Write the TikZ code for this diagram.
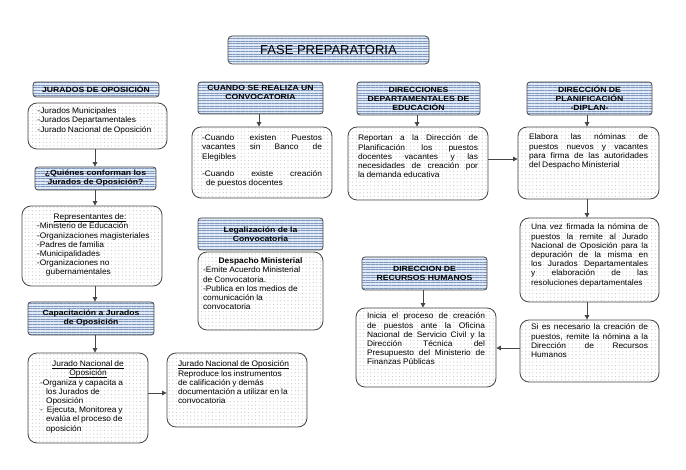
\documentclass[tikz,border=0pt]{standalone}
\usepackage{fontspec}
\setmainfont{Liberation Sans}[FakeStretch=1.05,WordSpace=0.85]
\newfontfamily\hdrfont{Liberation Sans}[FakeStretch=1.15]
\newfontfamily\ttlfont{Liberation Sans}
\usetikzlibrary{patterns.meta,arrows.meta}
\definecolor{hdrbg}{RGB}{224,233,246}
\definecolor{hdrln}{RGB}{128,152,190}
\definecolor{bord}{RGB}{70,70,70}
\definecolor{dotc}{RGB}{200,200,200}
\newcommand{\cbx}[3]{\begin{minipage}[c][#2pt][t]{#1pt}#3\end{minipage}}
\newcommand{\myul}[1]{\leavevmode{\setbox0\hbox{#1}\rlap{\rule[-1.3pt]{\wd0}{0.45pt}}\box0}}
\begin{document}
\begin{tikzpicture}[x=1pt,y=-1pt,
  hdr/.style={draw=bord, line width=0.8pt, rounded corners=3pt, preaction={fill=hdrbg},
    pattern={Lines[angle=0,distance=2.6pt,line width=0.8pt]}, pattern color=hdrln,
    font=\hdrfont\bfseries\fontsize{7.5}{9}\selectfont, align=center, inner sep=0pt, text=black},
  ttl/.style={hdr, rounded corners=4pt, font=\ttlfont\fontsize{13}{15}\selectfont},
  cnt/.style={draw=bord, line width=0.8pt, rounded corners=9pt, preaction={fill=white},
    pattern={Dots[distance=3.6pt,radius=0.6pt]}, pattern color=dotc,
    font=\fontsize{8}{9.2}\selectfont, inner sep=0pt, text=black},
  arr/.style={draw=bord, line width=0.9pt, -{Triangle[length=4.5pt,width=4.5pt]}}
]
\useasboundingbox (0,0) rectangle (686,470);

% title
\node[ttl, minimum width=201pt, minimum height=28pt] (title) at (328.5,50) {FASE PREPARATORIA};

% column 1
\node[hdr, minimum width=126pt, minimum height=15pt] (h1) at (96,89.5) {JURADOS DE OPOSICIÓN};
\node[cnt, minimum width=139pt, minimum height=46pt] (b1) at (97.5,126)
  {\cbx{120}{36}{\raggedright -Jurados Municipales\\-Jurados Departamentales\\-Jurado Nacional de Oposición}};
\node[hdr, minimum width=121pt, minimum height=23pt] (h2) at (95.5,178.5) {¿Quiénes conforman los\\Jurados de Oposición?};
\node[cnt, minimum width=140pt, minimum height=80pt] (b2) at (92,246)
  {\cbx{116}{64}{\raggedright\leftskip=3pt \makebox[106pt]{\myul{Representantes de:}}\\-Ministerio de Educación\\-Organizaciones magisteriales\\-Padres de familia\\-Municipalidades\\-Organizaciones no\\\hspace*{9pt}gubernamentales}};
\node[hdr, minimum width=126pt, minimum height=33pt] (h3) at (91,318.5) {Capacitación a Jurados\\de Oposición};
\node[cnt, minimum width=120pt, minimum height=90pt] (b3) at (88,398)
  {\cbx{96}{74}{\raggedright \makebox[96pt]{\myul{Jurado Nacional de}}\\\makebox[96pt]{\myul{Oposición}}\\-Organiza y capacita a\\\hspace*{6pt}los Jurados de\\\hspace*{6pt}Oposición\\-\hspace{4pt}Ejecuta, Monitorea y\\\hspace*{6pt}evalúa el proceso de\\\hspace*{6pt}oposición}};
\node[cnt, minimum width=140pt, minimum height=74pt] (b4) at (237,390)
  {\cbx{118}{58}{\raggedright\myul{Jurado Nacional de Oposición}\\Reproduce los instrumentos\\de calificación y demás\\documentación a utilizar en la\\convocatoria}};

% column 2
\node[hdr, minimum width=125pt, minimum height=32pt] (h4) at (260.5,98) {CUANDO SE REALIZA UN\\CONVOCATORIA\\[3pt]};
\node[cnt, minimum width=140pt, minimum height=71pt] (b5) at (262,162.5)
  {\cbx{120}{55}{-Cuando existen Puestos\linebreak vacantes sin Banco de\linebreak Elegibles\par\vspace{8pt}-Cuando existe creación\linebreak\hspace*{4pt}de puestos docentes}};
\node[hdr, minimum width=125pt, minimum height=32pt] (h5) at (260.5,234) {Legalización de la\\Convocatoria};
\node[cnt, minimum width=125pt, minimum height=78pt] (b6) at (260.5,291)
  {\cbx{115}{66}{\raggedright\makebox[115pt]{\bfseries Despacho Ministerial}\\-Emite Acuerdo Ministerial\\de Convocatoria.\\-Publica en los medios de\\comunicación la\\convocatoria}};

% column 3
\node[hdr, minimum width=123pt, minimum height=33pt] (h6) at (418.5,98.5) {DIRECCIONES\\DEPARTAMENTALES DE\\EDUCACIÓN};
\node[cnt, minimum width=140pt, minimum height=73pt] (b7) at (418,163.5)
  {\cbx{120}{57}{Reportan a la Dirección de\linebreak Planificación los puestos\linebreak docentes vacantes y las\linebreak necesidades de creación por\linebreak la demanda educativa}};
\node[hdr, minimum width=125pt, minimum height=33pt] (h7) at (424.5,273.5) {DIRECCION DE\\RECURSOS HUMANOS};
\node[cnt, minimum width=140pt, minimum height=79pt] (b8) at (426,347.5)
  {\cbx{118}{69}{Inicia el proceso de creación\linebreak de puestos ante la Oficina\linebreak Nacional de Servicio Civil y la\linebreak Dirección Técnica del\linebreak Presupuesto del Ministerio de\linebreak Finanzas Públicas}};

% column 4
\node[hdr, minimum width=125pt, minimum height=33pt] (h8) at (589.5,98.5) {DIRECCIÓN DE\\PLANIFICACIÓN\\-DIPLAN-};
\node[cnt, minimum width=141pt, minimum height=72pt] (b9) at (588.5,163)
  {\cbx{119}{58}{Elabora las nóminas de\linebreak puestos nuevos y vacantes\linebreak para firma de las autoridades\linebreak del Despacho Ministerial}};
\node[cnt, minimum width=139pt, minimum height=84pt] (b10) at (589.5,260)
  {\cbx{117}{72}{Una vez firmada la nómina de\linebreak puestos la remite al Jurado\linebreak Nacional de Oposición para la\linebreak depuración de la misma en\linebreak los Jurados Departamentales\linebreak y elaboración de las\linebreak resoluciones departamentales}};
\node[cnt, minimum width=139pt, minimum height=62pt] (b11) at (589.5,351)
  {\cbx{117}{54}{Si es necesario la creación de\linebreak puestos, remite la nómina a la\linebreak Dirección de Recursos\linebreak Humanos}};

% connectors
\coordinate (s1) at ([xshift=-2.5pt]b1.south);
\draw[arr] (s1) -- (s1 |- h2.north);
\coordinate (s2) at ([xshift=-0.5pt]h2.south);
\draw[arr] (s2) -- (s2 |- b2.north);
\coordinate (s3) at ([xshift=3pt]b2.south);
\draw[arr] (s3) -- (s3 |- h3.north);
\coordinate (s4) at ([xshift=4pt]h3.south);
\draw[arr] (s4) -- (s4 |- b3.north);
\coordinate (s5) at ([yshift=5pt]b3.east);
\draw[arr] (s5) -- (s5 -| b4.west);

\coordinate (s6) at ([xshift=-1.5pt]h4.south);
\draw[arr] (s6) -- (s6 |- b5.north);

\coordinate (s7) at ([xshift=-1.5pt]h6.south);
\draw[arr] (s7) -- (s7 |- b7.north);
\coordinate (s8) at ([yshift=4.5pt]b7.east);
\draw[arr] (s8) -- (s8 -| b9.west);
\coordinate (s9) at ([xshift=-1.5pt]h7.south);
\draw[arr] (s9) -- (s9 |- b8.north);

\coordinate (s10) at ([xshift=-2.5pt]h8.south);
\draw[arr] (s10) -- (s10 |- b9.north);
\coordinate (s11) at ([xshift=-1.5pt]b9.south);
\draw[arr] (s11) -- (s11 |- b10.north);
\coordinate (s12) at ([xshift=-2.5pt]b10.south);
\draw[arr] (s12) -- (s12 |- b11.north);
\coordinate (s13) at ([yshift=3pt]b11.west);
\draw[arr] (s13) -- (s13 -| b8.east);
\end{tikzpicture}
\end{document}
